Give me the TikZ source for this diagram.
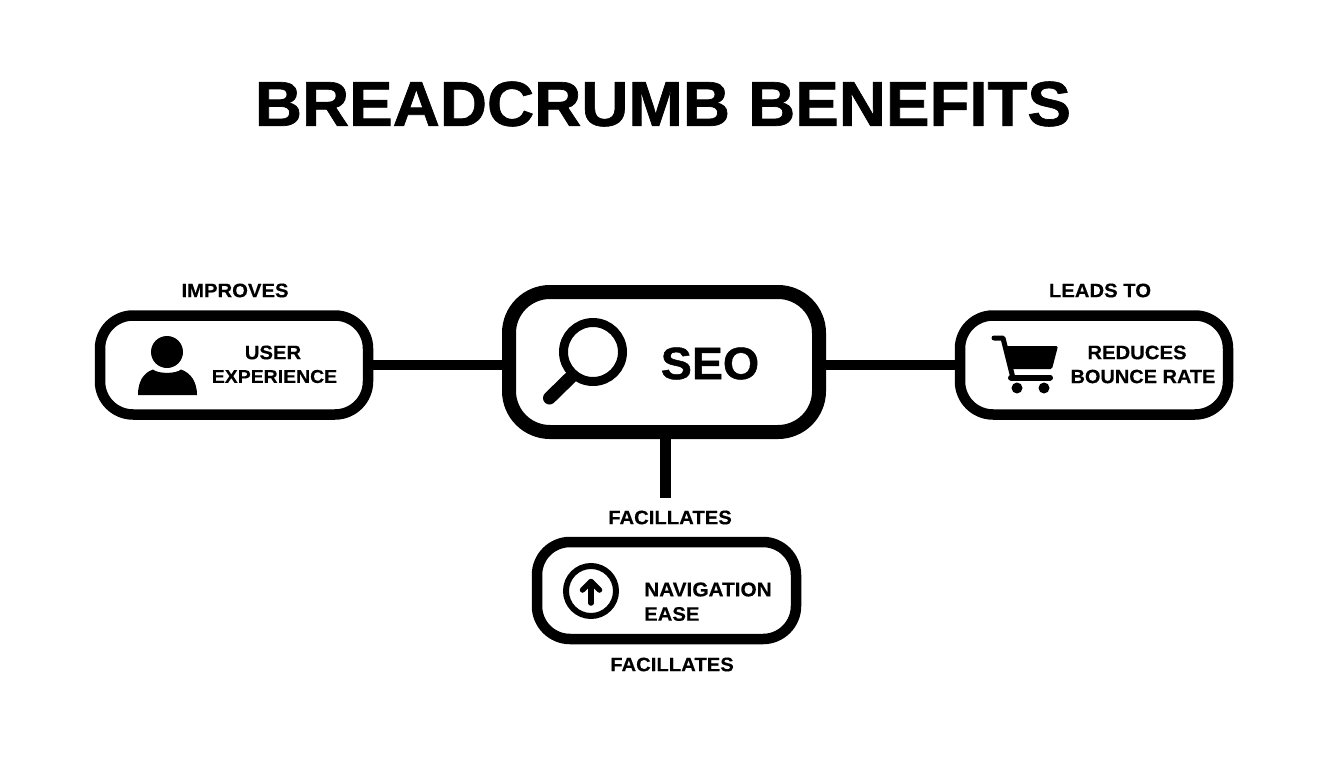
\documentclass[tikz,border=0pt]{standalone}
\usepackage{fontspec}
\setmainfont{Liberation Sans}
\newfontfamily\boldf[FakeStretch=1.04,FakeBold=0.25]{Liberation Sans Bold}
\newfontfamily\heavyf[FakeStretch=1.03,FakeBold=1.1]{Liberation Sans Bold}
\tikzset{
  x=1pt,y=-1pt,
  box/.style={draw=black,fill=white,rounded corners=33pt,line width=10.5pt,outer sep=0pt,inner sep=0pt,minimum width=268pt,minimum height=99pt},
  hub/.style={box,rounded corners=41pt,line width=14pt,minimum width=310pt,minimum height=140pt},
  navbox/.style={box,minimum width=259pt,minimum height=97pt},
  link/.style={draw=black,line width=10.5pt},
  lab/.style={font=\boldf\fontsize{19.5}{19.5}\selectfont,inner sep=0pt,text=black},
  ttl/.style={font=\heavyf\fontsize{63.4}{64}\selectfont,inner sep=0pt,text=black},
  seot/.style={font=\heavyf\fontsize{45.2}{46}\selectfont,inner sep=0pt,text=black},
  iconline/.style={draw=black,line cap=round,line join=round},
}
\begin{document}
\begin{tikzpicture}
\useasboundingbox[fill=white] (0,0) rectangle (1344,768);
\node[ttl] (title) at (663,104) {BREADCRUMB BENEFITS};
\node[box] (ux) at (234,365) {};
\node[hub] (seo) at (664,362) {};
\node[box] (bounce) at (1094,365) {};
\node[navbox] (nav) at (666.5,590.5) {};
\coordinate (stub) at (665.5,498);
\draw[link] (ux.east) -- (ux.east -| seo.west);
\draw[link] (seo.east |- bounce.west) -- (bounce.west);
\draw[link] (seo.south -| stub) -- (stub);
% labels
\node[lab] (limp) at (235,290.5) {IMPROVES};
\node[lab] (lleads) at (1100,290.5) {LEADS TO};
\node[lab] (lfac) at (670,517.5) {FACILLATES};
\node[lab] (lfacb) at (672,664.5) {FACILLATES};
\node[lab] (tux1) at (273,352.5) {USER};
\node[lab,font=\boldf\fontsize{18.7}{19}\selectfont] (tux2) at (274.5,376.5) {EXPERIENCE};
\node[lab] (tb1) at (1137,352.5) {REDUCES};
\node[lab,font=\boldf\fontsize{19.2}{19}\selectfont] (tb2) at (1143,376.5) {BOUNCE RATE};
\node[lab,anchor=west,font=\boldf\fontsize{20}{20}\selectfont] (tn1) at (644,589.5) {NAVIGATION};
\node[lab,anchor=west] (tn2) at (644,614) {EASE};
\node[seot] (tseo) at (710,363.5) {SEO};
% person icon
\fill[black] (167,352) circle (16);
\fill[black] (138,395) .. controls (138,382) and (143,373) .. (153,369.5) .. controls (158,374) and (176,374) .. (181,369.5) .. controls (191,373) and (197,382) .. (197,395) -- cycle;
% magnifier
\draw[iconline,line width=9pt] (593,352) circle (29.5);
\draw[iconline,line width=13pt] (549.5,398) -- (572,376);
% cart
\draw[iconline,line width=5pt] (994,338) -- (1003,338) -- (1013,378) -- (1050,378);
\fill[black,rounded corners=1.5pt] (1005,346) -- (1058,346) -- (1052,369) -- (1010,369) -- cycle;
\draw[iconline,line width=6pt] (1011,377.5) -- (1050,377.5);
\fill[black] (1017,388) circle (5.5);
\fill[black] (1044,388) circle (5.5);
% up arrow
\draw[black,line width=6pt] (591,591) circle (25);
\draw[iconline,line width=5.5pt] (591,603) -- (591,582);
\draw[iconline,line width=5.5pt] (582.5,590) -- (591,581.5) -- (599.5,590);
\end{tikzpicture}
\end{document}
